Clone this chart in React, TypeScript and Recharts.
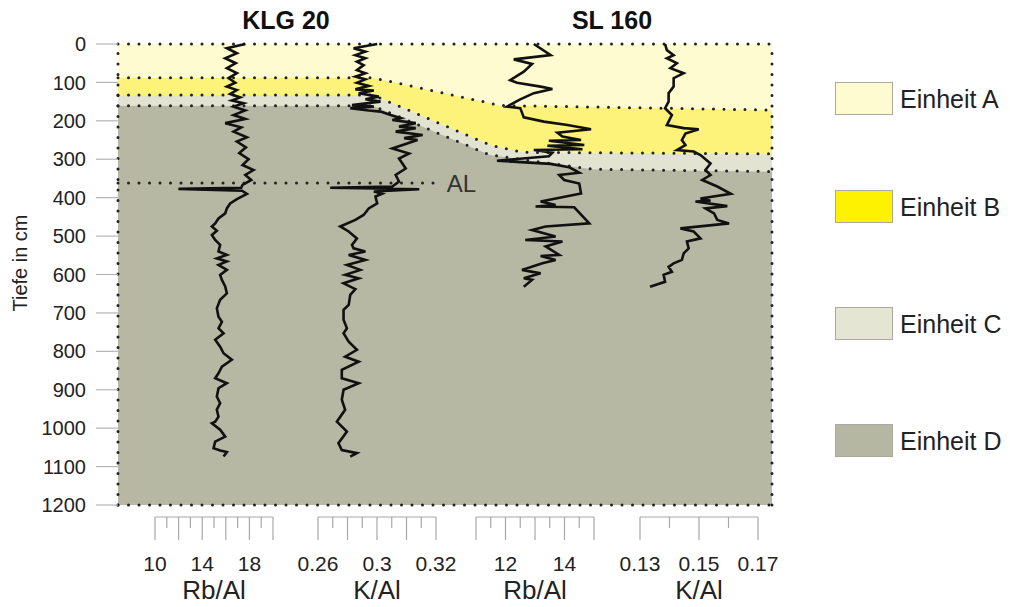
import React from "react";
import { ComposedChart, Area, Line, XAxis, YAxis, ReferenceLine } from "recharts";

const FONT = '"Liberation Sans", Arial, Helvetica, sans-serif';

// unit boundaries along the section (pos 0..100 from left to right), depth in cm
const sectionPos = [0, 39, 56.9, 58.4, 61.9, 72.6, 100];
const baseA = [88, 88, 154, 160, 161, 164, 172];
const baseB = [133, 133, 263, 269, 282, 283, 286];
const baseC = [161, 161, 289, 292, 301, 326, 332];
const maxDepth = 1200;
const alDepth = 362;
const alEnd = 49.2;

const depthTicks = [0, 100, 200, 300, 400, 500, 600, 700, 800, 900, 1000, 1100, 1200];

const unitNames = ["Einheit A", "Einheit B", "Einheit C", "Einheit D"];
const unitFill = ["#fffbd1", "#fdf37a", "#e2e3d0", "#b6b8a3"];
const legendFill = ["#fefbd0", "#fff200", "#e4e5d3", "#b5b7a2"];

// KLG 20 - Rb/Al
const klgRbDepth = [0, 11, 24, 37, 50, 63, 76, 89, 101, 111, 120, 130, 139, 147, 154, 163, 173, 185, 195, 206, 217, 228, 243, 254, 269, 284, 300, 315, 328, 341, 354, 367, 374, 377, 382, 390, 404, 415, 428, 441, 454, 467, 475, 486, 497, 510, 523, 540, 549, 558, 566, 575, 588, 601, 614, 631, 649, 666, 688, 710, 723, 740, 753, 770, 788, 805, 822, 840, 857, 870, 883, 896, 918, 935, 952, 970, 983, 987, 1004, 1022, 1035, 1052, 1058, 1062, 1074];
const klgRbValue = [17.65, 16.09, 16.94, 15.95, 16.85, 16.09, 16.94, 16.23, 16.8, 16.09, 16.94, 16.37, 17.22, 16.51, 17.51, 16.66, 17.65, 16.66, 17.65, 15.95, 17.31, 16.66, 17.79, 16.94, 17.71, 17.14, 17.93, 17.42, 18.36, 17.65, 18.16, 17.42, 17.31, 11.98, 17.37, 17.79, 16.94, 16.37, 16.09, 15.95, 15.38, 15.1, 14.82, 15.24, 14.82, 15.1, 15.52, 15.38, 16.09, 15.24, 16.09, 15.38, 16.09, 15.52, 15.67, 15.95, 16.09, 15.52, 15.24, 15.38, 15.67, 15.38, 15.81, 15.1, 15.52, 15.81, 16.51, 15.67, 15.38, 15.1, 16.09, 15.38, 15.24, 15.52, 15.24, 15.38, 15.1, 14.82, 15.52, 15.95, 15.1, 14.96, 15.52, 16.09, 15.81];

// KLG 20 - K/Al
const klgKDepth = [0, 11, 20, 29, 37, 46, 55, 68, 76, 85, 92, 101, 109, 118, 121, 128, 137, 144, 150, 159, 163, 167, 173, 176, 185, 193, 198, 206, 215, 219, 228, 237, 245, 250, 272, 285, 298, 324, 341, 358, 371, 374, 378, 384, 390, 397, 415, 428, 445, 458, 475, 488, 506, 523, 532, 540, 549, 562, 575, 588, 601, 610, 623, 638, 653, 679, 692, 718, 740, 753, 775, 796, 814, 827, 848, 870, 883, 900, 926, 952, 983, 1009, 1039, 1057, 1065, 1074];
const klgKValue = [0.2901, 0.2781, 0.2841, 0.279, 0.2841, 0.2798, 0.2832, 0.2798, 0.2841, 0.279, 0.2841, 0.2798, 0.2858, 0.279, 0.2884, 0.2807, 0.2909, 0.2841, 0.2918, 0.2773, 0.2884, 0.2764, 0.2858, 0.2918, 0.2969, 0.3021, 0.2978, 0.3097, 0.3012, 0.3097, 0.2995, 0.3132, 0.3038, 0.3106, 0.2978, 0.3063, 0.3012, 0.3046, 0.2995, 0.3012, 0.2978, 0.2662, 0.3115, 0.2884, 0.2926, 0.2892, 0.2901, 0.2858, 0.2832, 0.279, 0.2713, 0.2756, 0.2798, 0.2773, 0.2781, 0.2841, 0.2756, 0.2841, 0.2747, 0.2815, 0.2738, 0.2807, 0.273, 0.279, 0.2764, 0.2756, 0.273, 0.273, 0.2747, 0.273, 0.2756, 0.2798, 0.2738, 0.2807, 0.2721, 0.2721, 0.2807, 0.273, 0.2721, 0.2738, 0.2696, 0.2747, 0.2704, 0.2721, 0.2798, 0.2764];

// SL 160 - Rb/Al
const slRbDepth = [0, 29, 40, 52, 72, 94, 101, 111, 117, 128, 144, 163, 167, 191, 202, 211, 222, 231, 241, 250, 252, 263, 265, 274, 276, 283, 292, 304, 312, 321, 335, 341, 354, 363, 389, 410, 419, 423, 425, 467, 475, 484, 501, 510, 514, 527, 549, 552, 562, 571, 588, 597, 610, 614, 632];
const slRbValue = [12.96, 13.53, 12.28, 12.9, 12.62, 12.16, 12.39, 13.19, 13.59, 12.96, 12.5, 12.05, 12.5, 12.62, 13.3, 14.1, 14.9, 13.76, 13.93, 14.56, 13.47, 14.67, 13.42, 14.61, 12.96, 13.59, 13.47, 11.71, 13.53, 14.16, 14.5, 13.82, 13.99, 14.5, 14.56, 13.19, 13.7, 13.02, 14.33, 14.84, 13.36, 12.9, 13.7, 12.67, 13.93, 13.36, 13.82, 13.19, 13.7, 13.25, 12.56, 13.19, 12.62, 12.9, 12.62];

// SL 160 - K/Al
const slKDepth = [0, 16, 29, 37, 50, 63, 76, 89, 111, 128, 150, 167, 185, 211, 219, 222, 233, 250, 263, 276, 280, 289, 311, 328, 341, 354, 371, 390, 402, 408, 410, 422, 428, 441, 458, 467, 480, 488, 506, 514, 532, 545, 562, 571, 580, 593, 601, 619, 632];
const slKValue = [0.1385, 0.1391, 0.1414, 0.1391, 0.1425, 0.1403, 0.1448, 0.1414, 0.1414, 0.1397, 0.1397, 0.1385, 0.1408, 0.1391, 0.1448, 0.1499, 0.1454, 0.1442, 0.1454, 0.1425, 0.1482, 0.1505, 0.1539, 0.1522, 0.1539, 0.1511, 0.1562, 0.1608, 0.1505, 0.1539, 0.1488, 0.1596, 0.1522, 0.1551, 0.1562, 0.1602, 0.1437, 0.1482, 0.1505, 0.1459, 0.1465, 0.1448, 0.1442, 0.1414, 0.1397, 0.1408, 0.138, 0.1385, 0.1334];

// bottom scales
const klgRbTicks = [10, 11, 12, 13, 14, 15, 16, 17, 18, 19, 20];
const klgRbLabels = ["10", "", "", "", "14", "", "", "", "18", "", ""];
const klgKTicks = [0.26, 0.2675, 0.275, 0.2825, 0.29, 0.2975, 0.305, 0.3125, 0.32];
const klgKLabels = ["0.26", "", "", "", "0.3", "", "", "", "0.32"];
const slRbTicks = [11, 11.5, 12, 12.5, 13, 13.5, 14, 14.5, 15];
const slRbLabels = ["", "", "12", "", "", "", "14", "", ""];
const slKTicks = [0.13, 0.14, 0.15, 0.16, 0.17];
const slKLabels = ["0.13", "", "0.15", "", "0.17"];

const PLOT_TOP = 44;
const PLOT_H = 461;
const BRACKET_GAP = 12;
const panelDepthMax = (maxDepth * (PLOT_H + BRACKET_GAP)) / PLOT_H;
const PANEL_W = 118;
const PANEL_PAD = 30;

const panels = [
    { key: "klgRb", left: 155, title: "Rb/Al", depth: klgRbDepth, value: klgRbValue, ticks: klgRbTicks, labels: klgRbLabels },
    { key: "klgK", left: 318, title: "K/Al", depth: klgKDepth, value: klgKValue, ticks: klgKTicks, labels: klgKLabels },
    { key: "slRb", left: 476, title: "Rb/Al", depth: slRbDepth, value: slRbValue, ticks: slRbTicks, labels: slRbLabels },
    { key: "slK", left: 640, title: "K/Al", depth: slKDepth, value: slKValue, ticks: slKTicks, labels: slKLabels },
];

const sectionData = sectionPos.map((pos, i) => ({ pos, a: baseA[i], b: baseB[i], c: baseC[i] }));

const dotted = { stroke: "#222", strokeWidth: 3, strokeDasharray: "0 10.5", strokeLinecap: "round" as const };

function BracketTick(props: any) {
    const { x, y, index, labels } = props;
    return (
        <g>
            <line x1={x} x2={x} y1={y} y2={y + (index % 2 === 0 ? 23 : 11)} stroke="#a8a8a8" strokeWidth={1.2} />
            {labels[index] ? (
                <text x={x} y={y + 54} textAnchor="middle" fontSize={21} fill="#222">
                    {labels[index]}
                </text>
            ) : null}
        </g>
    );
}

function ProfilePanel({ panel }: { panel: (typeof panels)[number] }) {
    const data = panel.depth.map((d, i) => ({ d, v: panel.value[i] }));
    const t = panel.ticks;
    return (
        <div style={{ position: "absolute", left: panel.left - PANEL_PAD, top: 0 }}>
            <ComposedChart
                width={PANEL_W + 2 * PANEL_PAD}
                height={607}
                data={data}
                margin={{ top: PLOT_TOP, right: PANEL_PAD, bottom: 0, left: PANEL_PAD }}
            >
                <XAxis
                    type="number"
                    dataKey="v"
                    domain={[t[0], t[t.length - 1]]}
                    ticks={t}
                    interval={0}
                    height={90}
                    tickSize={0}
                    tickMargin={0}
                    tickLine={false}
                    axisLine={{ stroke: "#a8a8a8", strokeWidth: 1.2 }}
                    tick={(p: any) => <BracketTick {...p} labels={panel.labels} />}
                    label={{ value: panel.title, position: "insideBottom", offset: 8, fontSize: 26, fill: "#222" }}
                />
                <YAxis type="number" domain={[0, panelDepthMax]} reversed hide />
                <Line
                    type="linear"
                    dataKey="d"
                    stroke="#111"
                    strokeWidth={2.6}
                    dot={false}
                    activeDot={false}
                    isAnimationActive={false}
                />
            </ComposedChart>
        </div>
    );
}

export default function App() {
    return (
        <div style={{ position: "absolute", left: 0, top: 0, width: 1010, height: 607, background: "#fff", fontFamily: FONT }}>
            <ComposedChart
                width={1010}
                height={607}
                data={sectionData}
                margin={{ top: PLOT_TOP, right: 238, bottom: 102, left: 0 }}
            >
                <XAxis type="number" dataKey="pos" domain={[0, 100]} hide height={0} />
                <YAxis
                    type="number"
                    domain={[0, maxDepth]}
                    reversed
                    ticks={depthTicks}
                    interval={0}
                    width={118}
                    axisLine={false}
                    tickLine={{ stroke: "#b5b5b5", strokeWidth: 1.2 }}
                    tickSize={22}
                    tickMargin={10}
                    tick={{ fontSize: 20, fill: "#222" }}
                />
                <Area type="linear" dataKey={(e: any) => [0, e.a]} fill={unitFill[0]} fillOpacity={1} stroke="none" isAnimationActive={false} />
                <Area type="linear" dataKey={(e: any) => [e.a, e.b]} fill={unitFill[1]} fillOpacity={1} stroke="none" isAnimationActive={false} />
                <Area type="linear" dataKey={(e: any) => [e.b, e.c]} fill={unitFill[2]} fillOpacity={1} stroke="none" isAnimationActive={false} />
                <Area type="linear" dataKey={(e: any) => [e.c, maxDepth]} fill={unitFill[3]} fillOpacity={1} stroke="none" isAnimationActive={false} />
                <Line type="linear" dataKey="a" {...dotted} dot={false} activeDot={false} isAnimationActive={false} />
                <Line type="linear" dataKey="b" {...dotted} dot={false} activeDot={false} isAnimationActive={false} />
                <Line type="linear" dataKey="c" {...dotted} dot={false} activeDot={false} isAnimationActive={false} />
                <ReferenceLine y={0} {...dotted} />
                <ReferenceLine y={maxDepth} {...dotted} />
                <ReferenceLine x={0} {...dotted} />
                <ReferenceLine x={100} {...dotted} />
                <ReferenceLine
                    segment={[{ x: 0, y: alDepth }, { x: alEnd, y: alDepth }]}
                    {...dotted}
                    label={{ value: "AL", position: "right", offset: 7, fontSize: 24, fill: "#333" }}
                />
            </ComposedChart>

            {panels.map((p) => (
                <ProfilePanel key={p.key} panel={p} />
            ))}

            <div
                style={{
                    position: "absolute",
                    left: -80,
                    top: 251,
                    width: 200,
                    height: 24,
                    lineHeight: "24px",
                    textAlign: "center",
                    fontSize: 20,
                    color: "#222",
                    transform: "rotate(-90deg)",
                }}
            >
                Tiefe in cm
            </div>

            <div style={{ position: "absolute", left: 186, width: 200, top: 8, textAlign: "center", fontWeight: 700, fontSize: 25, lineHeight: "25px", color: "#111" }}>
                KLG 20
            </div>
            <div style={{ position: "absolute", left: 512, width: 200, top: 8, textAlign: "center", fontWeight: 700, fontSize: 25, lineHeight: "25px", color: "#111" }}>
                SL 160
            </div>

            {unitNames.map((name, i) => (
                <div key={name} style={{ position: "absolute", left: 835, top: [82, 190, 307, 424][i], display: "flex", alignItems: "center" }}>
                    <div style={{ width: 56, height: 31, background: legendFill[i], border: "1px solid #a9a9a0" }} />
                    <span style={{ marginLeft: 7, fontSize: 25, lineHeight: "32px", color: "#222" }}>{name}</span>
                </div>
            ))}
        </div>
    );
}
